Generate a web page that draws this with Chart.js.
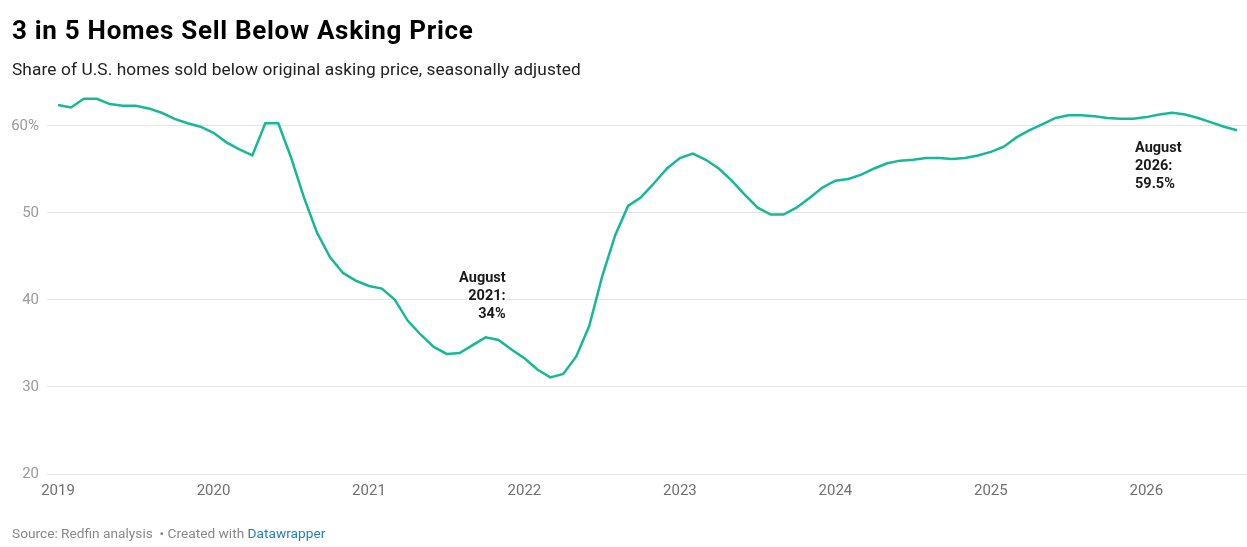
<!DOCTYPE html>
<html>
<head>
<meta charset="utf-8">
<script src="https://cdn.jsdelivr.net/npm/chart.js@4.4.1/dist/chart.umd.min.js"></script>
<style>
  body { margin: 0; background: #fff; font-family: Roboto, sans-serif; }
  #wrap { position: relative; width: 1247px; height: 547px; overflow: hidden; }
  h1 { position: absolute; left: 12px; top: 17px; margin: 0; font-size: 26px; line-height: 26px; letter-spacing: 0.7px; font-weight: 700; color: #000; }
  .sub { position: absolute; left: 12px; top: 61px; font-size: 17.3px; line-height: 17px; letter-spacing: 0.1px; color: #222; }
  .chart { position: absolute; left: 0; top: 0; width: 1247px; height: 547px; }
  .foot { position: absolute; left: 12px; top: 526px; font-size: 13.7px; line-height: 14px; color: #888; }
  .foot a { color: #1d81c2; text-decoration: none; }
</style>
</head>
<body>
<div id="wrap">
  <div class="chart"><canvas id="c"></canvas></div>
  <h1>3 in 5 Homes Sell Below Asking Price</h1>
  <div class="sub">Share of U.S. homes sold below original asking price, seasonally adjusted</div>
  <div class="foot">Source: Redfin analysis &nbsp;• Created with <a>Datawrapper</a></div>
</div>
<script>
// monthly values, Jan 2019 .. Aug 2026
const share2019 = [62.4, 62.1, 63.1, 63.1, 62.5, 62.3, 62.3, 62.0, 61.5, 60.8, 60.3, 59.9];
const share2020 = [59.2, 58.1, 57.3, 56.6, 60.3, 60.3, 56.3, 51.7, 47.7, 44.9, 43.1, 42.2];
const share2021 = [41.6, 41.3, 40.0, 37.6, 36.0, 34.6, 33.8, 33.9, 34.8, 35.7, 35.4, 34.3];
const share2022 = [33.3, 32.0, 31.1, 31.5, 33.5, 37.0, 42.7, 47.4, 50.8, 51.8, 53.4, 55.1];
const share2023 = [56.3, 56.8, 56.1, 55.1, 53.7, 52.1, 50.6, 49.8, 49.8, 50.6, 51.7, 52.9];
const share2024 = [53.7, 53.9, 54.4, 55.1, 55.7, 56.0, 56.1, 56.3, 56.3, 56.2, 56.3, 56.6];
const share2025 = [57.0, 57.6, 58.7, 59.5, 60.2, 60.9, 61.2, 61.2, 61.1, 60.9, 60.8, 60.8];
const share2026 = [61.0, 61.3, 61.5, 61.3, 60.9, 60.4, 59.9, 59.5];

const years = [2019, 2020, 2021, 2022, 2023, 2024, 2025, 2026];
const yTicks = [20, 30, 40, 50, 60];

const shareBelowAsking = [].concat(share2019, share2020, share2021, share2022,
                                   share2023, share2024, share2025, share2026);

// text annotations attached to a month (index into shareBelowAsking)
const notes = [
  { index: 31, lines: ['August', '2021:', '34%'], align: 'right', dx: 46, dy: -75 },
  { index: 91, lines: ['August', '2026:', '59.5%'], align: 'left', dx: -102, dy: 18 }
];

const colors = {
  line: '#17b898',
  grid: '#e4e4e4',
  yText: '#9a9a9a',
  xText: '#707070',
  note: '#1a1a1a'
};

const overlayPlugin = {
  id: 'overlay',
  afterDraw(chart) {
    const { ctx, scales: { x, y } } = chart;
    ctx.save();
    // y labels, top one carries the % sign
    ctx.font = '15px Roboto';
    ctx.fillStyle = colors.yText;
    ctx.textAlign = 'right';
    ctx.textBaseline = 'middle';
    yTicks.forEach((v, i) => {
      const isTop = i === yTicks.length - 1;
      ctx.fillText(isTop ? v + '%' : String(v), x.left - 8, y.getPixelForValue(v));
    });

    // annotations
    ctx.font = 'bold 14.5px Roboto';
    ctx.textBaseline = 'middle';
    ctx.lineJoin = 'round';
    notes.forEach(n => {
      const px = x.getPixelForValue(n.index) + n.dx;
      const py = y.getPixelForValue(shareBelowAsking[n.index]) + n.dy;
      ctx.textAlign = n.align;
      n.lines.forEach((t, i) => {
        ctx.strokeStyle = '#fff';
        ctx.lineWidth = 3;
        ctx.strokeText(t, px, py + i * 18);
        ctx.fillStyle = colors.note;
        ctx.fillText(t, px, py + i * 18);
      });
    });
    ctx.restore();
  }
};

new Chart(document.getElementById('c'), {
  type: 'line',
  data: {
    datasets: [{
      data: shareBelowAsking.map((v, i) => ({ x: i, y: v })),
      borderColor: colors.line,
      borderWidth: 2.5,
      pointRadius: 0,
      tension: 0,
      fill: false
    }]
  },
  options: {
    responsive: true,
    maintainAspectRatio: false,
    animation: false,
    layout: { padding: { top: 91, left: 47, right: 0, bottom: 43 } },
    scales: {
      x: {
        type: 'linear',
        min: -0.85,
        max: 91.77,
        afterBuildTicks: s => { s.ticks = years.map(yr => ({ value: (yr - 2019) * 12 })); },
        afterFit: s => { s.height = 30; },
        grid: { display: false, drawTicks: false },
        border: { display: false },
        ticks: {
          padding: 8,
          maxRotation: 0,
          autoSkip: false,
          color: colors.xText,
          font: { family: 'Roboto', size: 15 },
          callback: v => String(2019 + v / 12)
        }
      },
      y: {
        min: 20,
        max: 64,
        afterBuildTicks: s => { s.ticks = yTicks.map(v => ({ value: v })); },
        afterFit: s => { s.width = 0; },
        grid: { color: colors.grid, lineWidth: 1, drawTicks: false },
        border: { display: false },
        ticks: { display: false }
      }
    },
    plugins: {
      legend: { display: false },
      tooltip: { enabled: false }
    }
  },
  plugins: [overlayPlugin]
});
</script>
</body>
</html>
